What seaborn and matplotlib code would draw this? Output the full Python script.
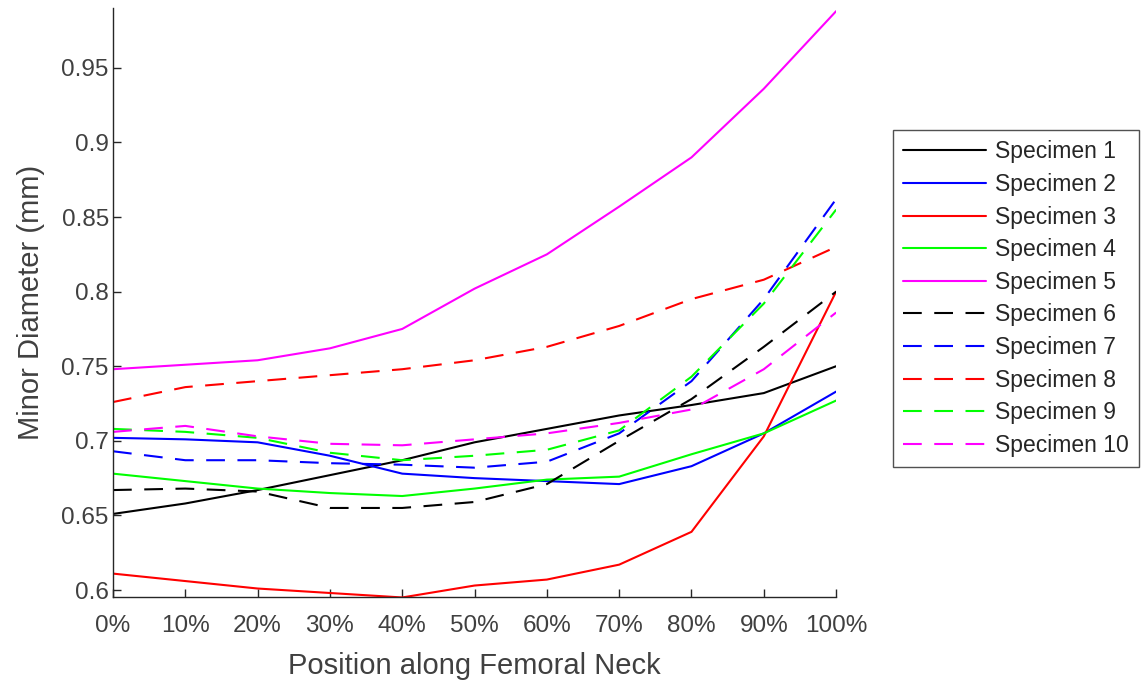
import pandas as pd
import numpy as np
import matplotlib
matplotlib.use('Agg')
import matplotlib.pyplot as plt
import seaborn as sns

# Position along the neck (percent)
positions = [0, 10, 20, 30, 40, 50, 60, 70, 80, 90, 100]
tick_labels = ['0%', '10%', '20%', '30%', '40%', '50%', '60%', '70%', '80%', '90%', '100%']

spec1 = [0.651, 0.658, 0.667, 0.677, 0.687, 0.699, 0.708, 0.717, 0.724, 0.732, 0.750]
spec2 = [0.702, 0.701, 0.699, 0.690, 0.678, 0.675, 0.673, 0.671, 0.683, 0.705, 0.733]
spec3 = [0.611, 0.606, 0.601, 0.598, 0.595, 0.603, 0.607, 0.617, 0.639, 0.703, 0.800]
spec4 = [0.678, 0.673, 0.668, 0.665, 0.663, 0.668, 0.674, 0.676, 0.691, 0.705, 0.727]
spec5 = [0.748, 0.751, 0.754, 0.762, 0.775, 0.802, 0.825, 0.857, 0.890, 0.936, 0.988]
spec6 = [0.667, 0.668, 0.666, 0.655, 0.655, 0.659, 0.671, 0.700, 0.728, 0.763, 0.800]
spec7 = [0.693, 0.687, 0.687, 0.685, 0.684, 0.682, 0.686, 0.705, 0.740, 0.795, 0.862]
spec8 = [0.726, 0.736, 0.740, 0.744, 0.748, 0.754, 0.763, 0.777, 0.795, 0.808, 0.830]
spec9 = [0.708, 0.706, 0.702, 0.692, 0.687, 0.690, 0.694, 0.707, 0.743, 0.792, 0.855]
spec10 = [0.706, 0.710, 0.703, 0.698, 0.697, 0.701, 0.705, 0.712, 0.721, 0.748, 0.786]

names = ['Specimen %d' % i for i in range(1, 11)]
all_specs = [spec1, spec2, spec3, spec4, spec5, spec6, spec7, spec8, spec9, spec10]

# long-form table for seaborn
rows = []
for name, vals in zip(names, all_specs):
    for p, v in zip(positions, vals):
        rows.append({'Position': p, 'Diameter': v, 'Specimen': name})
df = pd.DataFrame(rows)

base_colors = ['#000000', '#0000ff', '#ff0000', '#00ff00', '#ff00ff']
palette = dict(zip(names, base_colors * 2))
dashes = dict(zip(names, [''] * 5 + [(9, 6)] * 5))

sns.set_style('white')
plt.rcParams['font.family'] = ['Liberation Sans', 'DejaVu Sans']

fig = plt.figure(figsize=(11.46, 6.82), dpi=100)
ax = fig.add_axes([0.0986, 0.1246, 0.631, 0.8634])

sns.lineplot(data=df, x='Position', y='Diameter', hue='Specimen', style='Specimen',
             palette=palette, dashes=dashes, linewidth=1.5, ax=ax)

ax.set_xlim(0, 100)
ax.set_ylim(0.5953, 0.99)
ax.set_xticks(positions)
ax.set_xticklabels(tick_labels)
ax.set_yticks([0.6, 0.65, 0.7, 0.75, 0.8, 0.85, 0.9, 0.95])
ax.set_yticklabels(['0.6', '0.65', '0.7', '0.75', '0.8', '0.85', '0.9', '0.95'])
ax.tick_params(direction='in', length=6, width=1, colors='#262626', labelcolor='#404040',
               labelsize=17.5, bottom=True, left=True)
ax.tick_params(axis='y', pad=3)
ax.tick_params(axis='x', pad=13)
ax.set_xlabel('Position along Femoral Neck', fontsize=21, color='#404040', labelpad=11)
ax.set_ylabel('Minor Diameter (mm)', fontsize=21, color='#404040', labelpad=12)

for side in ['top', 'right']:
    ax.spines[side].set_visible(False)
for side in ['left', 'bottom']:
    ax.spines[side].set_color('#262626')
    ax.spines[side].set_linewidth(1)

leg = ax.legend(loc='upper left', bbox_to_anchor=(893 / 1146, 1 - 130 / 682),
                bbox_transform=fig.transFigure, borderaxespad=0, fontsize=16.5,
                frameon=True, fancybox=False, edgecolor='#262626', handlelength=3.6,
                borderpad=0.45, labelspacing=0.42, handletextpad=0.4)
leg.get_frame().set_linewidth(1)
for t in leg.get_texts():
    t.set_color('#262626')

fig.savefig('out.png', dpi=100)
